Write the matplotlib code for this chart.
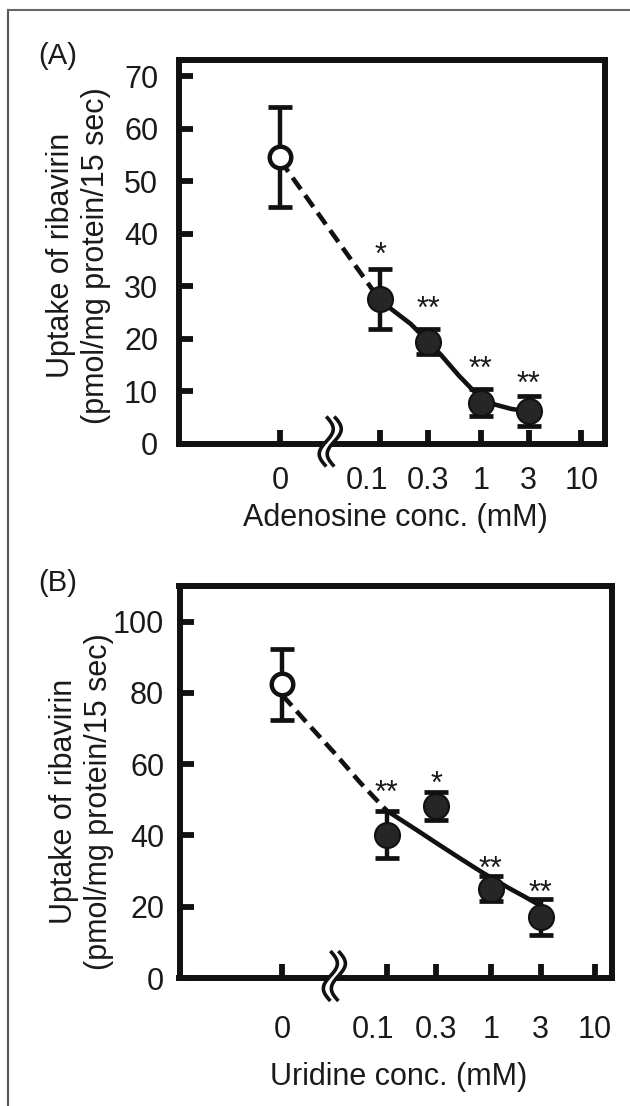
import numpy as np
import matplotlib
matplotlib.use("Agg")
import matplotlib.pyplot as plt
import matplotlib.transforms as mtransforms
from matplotlib.lines import Line2D
from matplotlib.patches import Polygon
from matplotlib.ticker import FixedLocator, FixedFormatter, NullLocator

plt.rcParams['font.family'] = ['Liberation Sans', 'DejaVu Sans']

# ---------------- data ----------------
tick_conc = [0, 0.1, 0.3, 1, 3, 10]
tick_labels = ['0', '0.1', '0.3', '1', '3', '10']
CONTROL_POS = 0.01          # log-axis position used for the "0" (control) group
BREAK_POS = 0.0316          # axis-break location between "0" and 0.1

# Panel A: adenosine
a_conc = [0, 0.1, 0.3, 1, 3]
a_mean = [54.6, 27.5, 19.4, 7.8, 6.2]
a_sem = [9.6, 5.7, 2.4, 2.5, 2.8]
a_sig = ['*', '**', '**', '**']
a_sig_conc = [0.1, 0.3, 1, 3]
a_sig_y = [37.7, 27.4, 16.0, 13.1]
a_fit_conc = [0, 0.1, 0.2, 0.3, 0.4, 0.6, 1.0, 1.4, 2.0, 3.0]
a_fit_val = [54.0, 27.2, 22.8, 19.4, 16.9, 13.0, 8.6, 7.4, 6.6, 6.1]

# Panel B: uridine
b_conc = [0, 0.1, 0.3, 1, 3]
b_mean = [82.4, 40.2, 48.2, 25.1, 17.2]
b_sem = [10.0, 6.6, 4.0, 3.6, 5.1]
b_sig = ['**', '*', '**', '**']
b_sig_conc = [0.1, 0.3, 1, 3]
b_sig_y = [54.4, 57.1, 33.1, 26.5]
b_fit_conc = [0, 0.018, 0.032, 0.056, 0.1, 0.2, 0.3, 0.5, 0.8, 1.0, 1.5, 2.0, 3.0]
b_fit_val = [79.4, 71.0, 63.0, 54.8, 47.0, 41.3, 37.9, 33.7, 29.9, 28.2, 25.2, 23.2, 20.3]

ylabel_txt = 'Uptake of ribavirin\n(pmol/mg protein/15 sec)'

INK = '#111111'
TXT = '#1a1a1a'

W, H = 630, 1106
fig = plt.figure(figsize=(W / 100, H / 100), dpi=100)


def pos(c):
    return [CONTROL_POS if v == 0 else v for v in c]


def draw_break(ax, xb):
    s = np.linspace(-1, 1, 80)
    yy = 25 * s + 2
    xc = 7 * np.sin(np.pi * s)
    x1 = xc - 4.0
    x2 = xc + 4.0
    trans = (mtransforms.Affine2D().scale(1 / fig.dpi) + fig.dpi_scale_trans
             + mtransforms.ScaledTranslation(xb, 0, ax.get_xaxis_transform()))
    verts = np.vstack([np.column_stack([x1, yy]), np.column_stack([x2, yy])[::-1]])
    ax.add_patch(Polygon(verts, closed=True, facecolor='white', edgecolor='none',
                         transform=trans, clip_on=False, zorder=6))
    for xx in (x1, x2):
        ax.add_line(Line2D(xx, yy, color=INK, lw=2.6, transform=trans,
                           clip_on=False, zorder=7, solid_capstyle='butt'))


def panel(rect, conc, mean, sem, sig, sig_conc, sig_y, fit_conc, fit_val,
          ylim, yticks, xlim, xlabel, xlab_xy, ylab_xy, xpad, ypad):
    ax = fig.add_axes(rect)
    ax.set_xscale('log')
    ax.set_xlim(*xlim)
    ax.set_ylim(*ylim)

    p = pos(conc)
    fp = pos(fit_conc)
    i01 = fit_conc.index(0.1)
    # fitted curve: dashed for the control-to-0.1 segment, solid after
    ax.plot(fp[:i01 + 1], fit_val[:i01 + 1], color=INK, lw=3.3,
            dashes=(3.1, 1.6), zorder=4)
    ax.plot(fp[i01:], fit_val[i01:], color=INK, lw=3.3, zorder=4,
            solid_joinstyle='round')

    ax.errorbar(p, mean, yerr=sem, fmt='none', ecolor=INK, elinewidth=3.2,
                capsize=8.3, capthick=3.4, zorder=3)
    ax.plot(p[:1], mean[:1], 'o', ms=15.5, mfc='white', mec=INK, mew=3.2, zorder=5)
    ax.plot(p[1:], mean[1:], 'o', ls='none', ms=18.0, mfc='#262626', mec=INK,
            mew=1.5, zorder=5)

    for t, c, y in zip(sig, sig_conc, sig_y):
        ax.annotate(t, (c, y), xytext=(0, -13), textcoords='offset points',
                    ha='center', va='baseline', fontsize=22, color=TXT)

    for s in ax.spines.values():
        s.set_linewidth(4.3)
        s.set_color(INK)
        s.set_zorder(2.5)

    ax.xaxis.set_major_locator(FixedLocator(pos(tick_conc)))
    ax.xaxis.set_major_formatter(FixedFormatter(tick_labels))
    ax.xaxis.set_minor_locator(NullLocator())
    ax.yaxis.set_major_locator(FixedLocator(yticks))
    ax.yaxis.set_minor_locator(NullLocator())
    ax.tick_params(axis='both', which='major', direction='in', length=10,
                   width=4.2, color=INK, labelcolor=TXT, labelsize=22)
    ax.tick_params(axis='x', pad=xpad)
    ax.tick_params(axis='y', pad=ypad)

    ticks = ax.xaxis.get_major_ticks()
    lbl = ticks[1].label1
    lbl.set_transform(lbl.get_transform() +
                      mtransforms.ScaledTranslation(-0.135, 0, fig.dpi_scale_trans))

    ax.set_xlabel(xlabel, fontsize=22, color=TXT)
    ax.xaxis.set_label_coords(*xlab_xy)
    ax.xaxis.label.set_va('top')
    ax.set_ylabel(ylabel_txt, fontsize=22, color=TXT, linespacing=1.22)
    ax.yaxis.set_label_coords(*ylab_xy)

    draw_break(ax, BREAK_POS)
    return ax


def rect_px(l, r, t, b):
    return [l / W, 1 - b / H, (r - l) / W, (b - t) / H]


axA = panel(rect_px(179, 605, 60, 443.5), a_conc, a_mean, a_sem, a_sig, a_sig_conc,
            a_sig_y, a_fit_conc, a_fit_val, (0, 73.1), [0, 10, 20, 30, 40, 50, 60, 70],
            (10 ** -3.007, 10 ** 1.237), 'Adenosine conc. (mM)',
            (0.507, -0.155), (-0.160, 0.490), 16.2, 15.0)

axB = panel(rect_px(179.5, 612, 586, 978), b_conc, b_mean, b_sem, b_sig, b_sig_conc,
            b_sig_y, b_fit_conc, b_fit_val, (0, 110), [0, 20, 40, 60, 80, 100],
            (10 ** -2.986, 10 ** 1.163), 'Uridine conc. (mM)',
            (0.5075, -0.214), (-0.151, 0.450), 26.6, 11.0)

fig.text(58 / W, 1 - 56 / H, '(A)', ha='center', va='center', fontsize=21, color=TXT)
fig.text(58 / W, 1 - 583 / H, '(B)', ha='center', va='center', fontsize=21, color=TXT)

# outer frame (left and top edges of the cropped figure box)
fig.add_artist(Line2D([7.5 / W, 7.5 / W], [0, 1 - 9.5 / H], transform=fig.transFigure,
                      color='#555555', lw=1.5))
fig.add_artist(Line2D([7.5 / W, 1], [1 - 9.5 / H, 1 - 9.5 / H], transform=fig.transFigure,
                      color='#666666', lw=1.5))

fig.savefig('out.png', dpi=100)
